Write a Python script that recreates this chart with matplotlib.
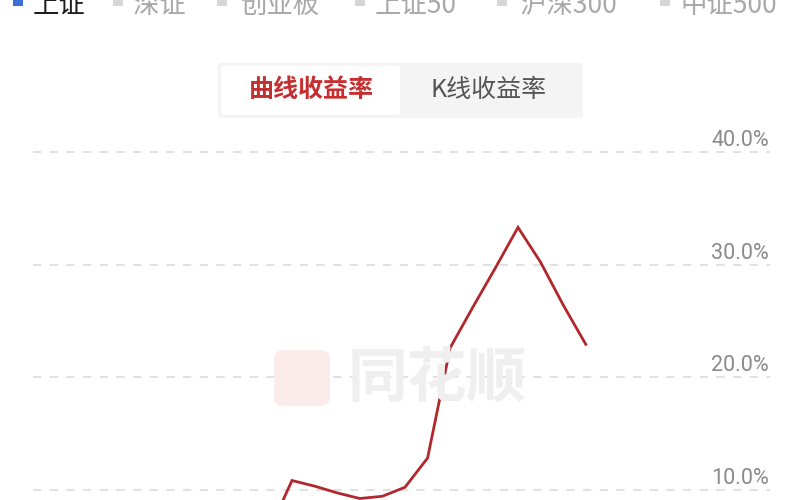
import matplotlib
matplotlib.use("Agg")
import matplotlib.pyplot as plt
from matplotlib.patches import FancyBboxPatch
from matplotlib.transforms import blended_transform_factory

plt.rcParams['font.family'] = ['Noto Sans CJK SC', 'DejaVu Sans']

# ---- data ----
legend_labels = ["上证", "深证", "创业板", "上证50", "沪深300", "中证500"]
toggle_labels = ["曲线收益率", "K线收益率"]
x_index = list(range(15))
returns = [6.4, 10.8, 10.3, 9.7, 9.2, 9.4, 10.2, 12.8, 22.6, 26.2, 29.7, 33.3, 30.2, 26.4, 22.9]
y_ticks = [10, 20, 30, 40]
y_tick_labels = ["10.0%", "20.0%", "30.0%", "40.0%"]

W, H = 800, 500
fig = plt.figure(figsize=(8, 5), dpi=100)
fig.patch.set_facecolor("white")
ax = fig.add_axes([0, 0, 1, 1])
ax.set_axis_off()

# x: index 0 at px 269.4, step 22.6 px ; y: 40% at px 152, 11.25 px per %
x0, dx = 269.4, 22.6
ax.set_xlim(-x0 / dx, (W - x0) / dx)
ax.set_ylim(40 - (H - 152) / 11.25, 40 + 152 / 11.25)

def fx(px):
    return px / W

def fy(py):
    return 1 - py / H

# watermark
fig.patches.append(FancyBboxPatch((fx(274), fy(406)), fx(330) - fx(274), fy(350) - fy(406),
                                  boxstyle="round,pad=0,rounding_size=0.015",
                                  transform=fig.transFigure, facecolor="#fcebeb",
                                  edgecolor="none", zorder=0))
fig.text(fx(437), fy(380), "同花顺", fontsize=43, color="#efefef", fontweight="bold",
         ha="center", va="center", style="italic", zorder=0)

# gridlines
for v in y_ticks:
    ax.axhline(v, xmin=33 / W, xmax=770 / W, color="#dcdcdc", lw=1.2,
               linestyle=(0, (5, 5)), zorder=1)

trans = blended_transform_factory(ax.transAxes, ax.transData)
for v, lab in zip(y_ticks, y_tick_labels):
    ax.annotate(lab, xy=(769 / W, v), xycoords=trans, xytext=(0, 4),
                textcoords="offset points", ha="right", va="baseline",
                fontsize=15.5, color="#8a8a8a", family=["Roboto", "DejaVu Sans"])

# line
ax.plot(x_index, returns, color="#b0282c", lw=2.0, solid_joinstyle="miter", zorder=3)

# top legend
sq_x = [13, 113, 217, 355, 497, 660]
txt_x = [33, 133, 240, 375, 520, 680]
for i, (lab, sx, tx) in enumerate(zip(legend_labels, sq_x, txt_x)):
    col_sq = "#3b6fd6" if i == 0 else "#d6d6d6"
    col_tx = "#1e1e1e" if i == 0 else "#a8a8a8"
    fig.patches.append(plt.Rectangle((fx(sx), fy(6)), 10 / W, 8 / H,
                                     transform=fig.transFigure, facecolor=col_sq,
                                     edgecolor="none"))
    fig.text(fx(tx), fy(13), lab, fontsize=19, color=col_tx, ha="left", va="baseline")

# toggle box
fig.patches.append(FancyBboxPatch((fx(218), fy(118)), fx(583) - fx(218), fy(63) - fy(118),
                                  boxstyle="round,pad=0,rounding_size=0.006",
                                  transform=fig.transFigure, facecolor="#f4f4f4",
                                  edgecolor="none", zorder=1))
fig.patches.append(FancyBboxPatch((fx(221), fy(115)), fx(400) - fx(221), fy(66) - fy(115),
                                  boxstyle="round,pad=0,rounding_size=0.005",
                                  transform=fig.transFigure, facecolor="#ffffff",
                                  edgecolor="none", zorder=2))
fig.text(fx(311), fy(90), toggle_labels[0], fontsize=18, color="#c62f30",
         fontweight="bold", ha="center", va="center", zorder=3)
fig.text(fx(489), fy(90), toggle_labels[1], fontsize=18, color="#555555",
         ha="center", va="center", zorder=3)

fig.savefig("out.png", dpi=100, facecolor="white")
